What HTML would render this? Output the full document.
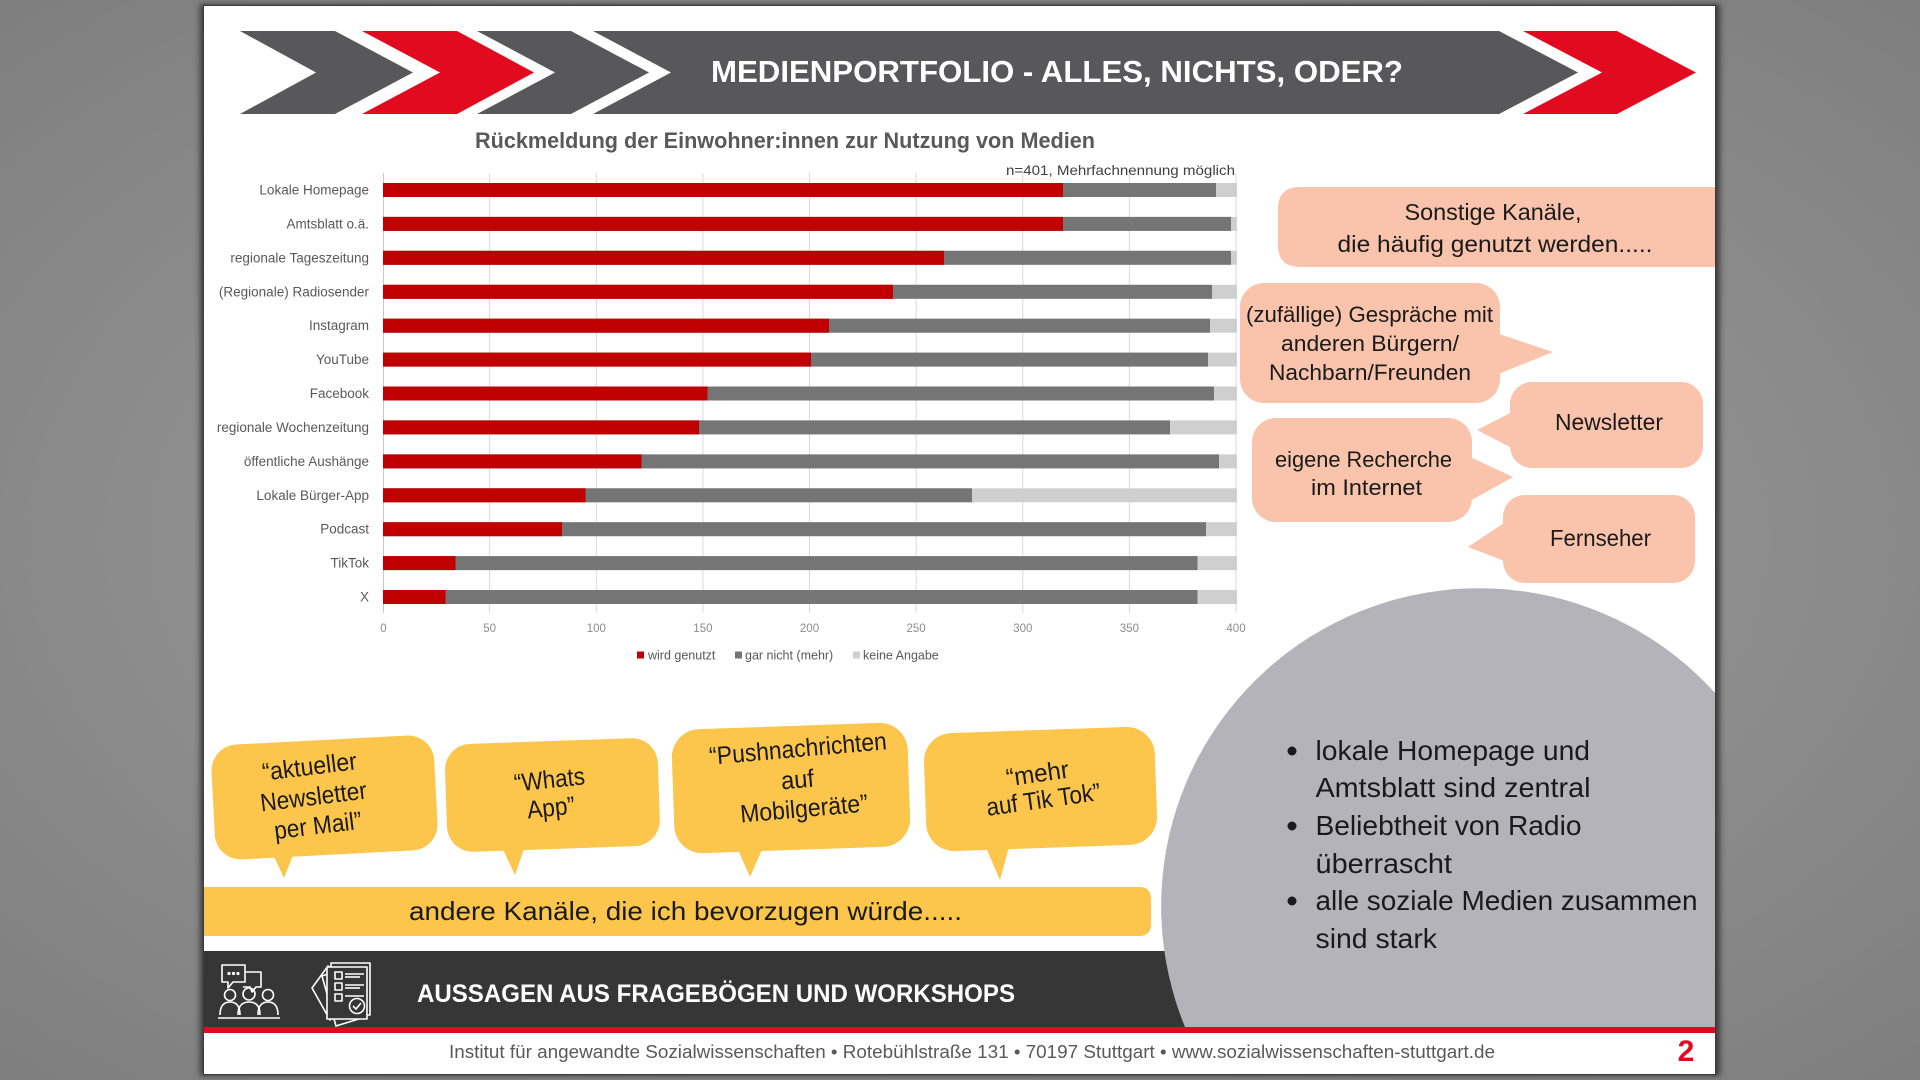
<!DOCTYPE html>
<html><head><meta charset="utf-8"><style>
html,body{margin:0;padding:0;width:1920px;height:1080px;overflow:hidden;background:#8d8d8d;}
svg{display:block;position:absolute;left:0;top:0}
text{font-family:"Liberation Sans",sans-serif;}
</style></head><body>
<svg width="1920" height="1080" viewBox="0 0 1920 1080" xmlns="http://www.w3.org/2000/svg" overflow="hidden">
<defs>
<radialGradient id="bg" cx="50%" cy="50%" r="75%">
<stop offset="0" stop-color="#a2a2a2"/><stop offset="1" stop-color="#7c7c7c"/>
</radialGradient>
<filter id="sh" x="-2%" y="-2%" width="104%" height="104%"><feGaussianBlur stdDeviation="3"/></filter>
<clipPath id="slideAll"><rect x="203" y="5" width="1513" height="1070"/></clipPath>
</defs>
<rect width="1920" height="1080" fill="url(#bg)"/>
<rect x="200" y="4" width="1520" height="1072" fill="#2a2a2a" filter="url(#sh)" opacity="0.8"/>
<rect x="203" y="5" width="1513" height="1070" fill="#ffffff"/>

<!-- header -->
<polygon points="240,31 335,31 413,72.5 335,114 240,114 316,72.5" fill="#58585a"/>
<polygon points="362,31 457,31 534,72.5 457,114 362,114 440,72.5" fill="#e20a1e"/>
<polygon points="477,31 571,31 649,72.5 571,114 477,114 555,72.5" fill="#58585a"/>
<polygon points="593,31 1499,31 1578,72.5 1499,114 593,114 671,72.5" fill="#58585a"/>
<polygon points="1523,31 1617,31 1696,72.5 1617,114 1523,114 1602,72.5" fill="#e20a1e"/>
<text x="1057" y="82" text-anchor="middle" font-size="31" font-weight="bold" fill="#ffffff" textLength="692" lengthAdjust="spacingAndGlyphs">MEDIENPORTFOLIO - ALLES, NICHTS, ODER?</text>

<!-- chart title -->
<text x="475" y="148" font-size="22" font-weight="bold" fill="#595959" textLength="620" lengthAdjust="spacingAndGlyphs">Rückmeldung der Einwohner:innen zur Nutzung von Medien</text>
<text x="1235" y="175" text-anchor="end" font-size="14" fill="#404040" textLength="229" lengthAdjust="spacingAndGlyphs">n=401, Mehrfachnennung möglich</text>

<!-- gridlines -->
<g stroke="#d9d9d9" stroke-width="1">
<line x1="383.5" y1="173" x2="383.5" y2="613" stroke="#c8c8c8"/>
<line x1="489.6" y1="173" x2="489.6" y2="613"/>
<line x1="596.3" y1="173" x2="596.3" y2="613"/>
<line x1="702.9" y1="173" x2="702.9" y2="613"/>
<line x1="809.5" y1="173" x2="809.5" y2="613"/>
<line x1="916.1" y1="173" x2="916.1" y2="613"/>
<line x1="1022.8" y1="173" x2="1022.8" y2="613"/>
<line x1="1129.4" y1="173" x2="1129.4" y2="613"/>
<line x1="1236" y1="173" x2="1236" y2="613"/>
</g>

<!-- bars -->
<g>
<rect x="383" y="183" width="854" height="14" fill="#d0cfcf"/>
<rect x="383" y="183" width="833" height="14" fill="#767575"/>
<rect x="383" y="183" width="680" height="14" fill="#c00000"/>

<rect x="383" y="216.9" width="854" height="14" fill="#d0cfcf"/>
<rect x="383" y="216.9" width="848" height="14" fill="#767575"/>
<rect x="383" y="216.9" width="680" height="14" fill="#c00000"/>

<rect x="383" y="250.8" width="854" height="14" fill="#d0cfcf"/>
<rect x="383" y="250.8" width="848" height="14" fill="#767575"/>
<rect x="383" y="250.8" width="561" height="14" fill="#c00000"/>

<rect x="383" y="284.8" width="854" height="14" fill="#d0cfcf"/>
<rect x="383" y="284.8" width="829" height="14" fill="#767575"/>
<rect x="383" y="284.8" width="510" height="14" fill="#c00000"/>

<rect x="383" y="318.7" width="854" height="14" fill="#d0cfcf"/>
<rect x="383" y="318.7" width="827" height="14" fill="#767575"/>
<rect x="383" y="318.7" width="446" height="14" fill="#c00000"/>

<rect x="383" y="352.6" width="854" height="14" fill="#d0cfcf"/>
<rect x="383" y="352.6" width="825" height="14" fill="#767575"/>
<rect x="383" y="352.6" width="428" height="14" fill="#c00000"/>

<rect x="383" y="386.5" width="854" height="14" fill="#d0cfcf"/>
<rect x="383" y="386.5" width="831" height="14" fill="#767575"/>
<rect x="383" y="386.5" width="324.5" height="14" fill="#c00000"/>

<rect x="383" y="420.4" width="854" height="14" fill="#d0cfcf"/>
<rect x="383" y="420.4" width="787" height="14" fill="#767575"/>
<rect x="383" y="420.4" width="316" height="14" fill="#c00000"/>

<rect x="383" y="454.4" width="854" height="14" fill="#d0cfcf"/>
<rect x="383" y="454.4" width="836" height="14" fill="#767575"/>
<rect x="383" y="454.4" width="258.5" height="14" fill="#c00000"/>

<rect x="383" y="488.3" width="854" height="14" fill="#d0cfcf"/>
<rect x="383" y="488.3" width="589" height="14" fill="#767575"/>
<rect x="383" y="488.3" width="202.5" height="14" fill="#c00000"/>

<rect x="383" y="522.2" width="854" height="14" fill="#d0cfcf"/>
<rect x="383" y="522.2" width="823" height="14" fill="#767575"/>
<rect x="383" y="522.2" width="179" height="14" fill="#c00000"/>

<rect x="383" y="556.1" width="854" height="14" fill="#d0cfcf"/>
<rect x="383" y="556.1" width="814.5" height="14" fill="#767575"/>
<rect x="383" y="556.1" width="72.5" height="14" fill="#c00000"/>

<rect x="383" y="590" width="854" height="14" fill="#d0cfcf"/>
<rect x="383" y="590" width="814.5" height="14" fill="#767575"/>
<rect x="383" y="590" width="62.5" height="14" fill="#c00000"/>
</g>

<!-- y labels -->
<g font-size="13.5" fill="#595959" text-anchor="end">
<text x="369" y="194.5">Lokale Homepage</text>
<text x="369" y="228.4">Amtsblatt o.ä.</text>
<text x="369" y="262.3">regionale Tageszeitung</text>
<text x="369" y="296.3">(Regionale) Radiosender</text>
<text x="369" y="330.2">Instagram</text>
<text x="369" y="364.1">YouTube</text>
<text x="369" y="398">Facebook</text>
<text x="369" y="431.9">regionale Wochenzeitung</text>
<text x="369" y="465.9">öffentliche Aushänge</text>
<text x="369" y="499.8">Lokale Bürger-App</text>
<text x="369" y="533.7">Podcast</text>
<text x="369" y="567.6">TikTok</text>
<text x="369" y="601.5">X</text>
</g>

<!-- x ticks -->
<g font-size="11.5" fill="#8c8c8c" text-anchor="middle">
<text x="383.5" y="632">0</text>
<text x="489.6" y="632">50</text>
<text x="596.3" y="632">100</text>
<text x="702.9" y="632">150</text>
<text x="809.5" y="632">200</text>
<text x="916.1" y="632">250</text>
<text x="1022.8" y="632">300</text>
<text x="1129.4" y="632">350</text>
<text x="1236" y="632">400</text>
</g>

<!-- legend -->
<rect x="637" y="651.5" width="7" height="7" fill="#c00000"/>
<text x="648" y="659.5" font-size="12.5" fill="#595959">wird genutzt</text>
<rect x="735" y="651.5" width="7" height="7" fill="#767575"/>
<text x="745" y="659.5" font-size="12.5" fill="#595959">gar nicht (mehr)</text>
<rect x="853" y="651.5" width="7" height="7" fill="#d0cfcf"/>
<text x="863" y="659.5" font-size="12.5" fill="#595959">keine Angabe</text>

<!-- salmon bubbles -->
<g fill="#f9c4ab">
<path d="M1716,187 V267 H1300 Q1278,267 1278,245 V209 Q1278,187 1300,187 Z"/>
<rect x="1240" y="283" width="260" height="120" rx="24"/>
<polygon points="1496,333 1553,352 1496,375"/>
<rect x="1510" y="382" width="193" height="86" rx="22"/>
<polygon points="1514,411 1477,430 1514,449"/>
<rect x="1252" y="418" width="220" height="104" rx="24"/>
<polygon points="1468,456 1513,477 1468,502"/>
<rect x="1503" y="495" width="192" height="88" rx="22"/>
<polygon points="1507,521 1468,547 1507,562"/>
</g>
<g font-size="23" fill="#1a1a1a" text-anchor="middle">
<text x="1493" y="220" textLength="177" lengthAdjust="spacingAndGlyphs">Sonstige Kanäle,</text>
<text x="1495" y="252" textLength="315" lengthAdjust="spacingAndGlyphs">die häufig genutzt werden.....</text>
<text x="1369.5" y="322" font-size="22" textLength="247" lengthAdjust="spacingAndGlyphs">(zufällige) Gespräche mit</text>
<text x="1370" y="351" font-size="22" textLength="178" lengthAdjust="spacingAndGlyphs">anderen Bürgern/</text>
<text x="1370" y="380" font-size="22" textLength="202" lengthAdjust="spacingAndGlyphs">Nachbarn/Freunden</text>
<text x="1609" y="430" textLength="108" lengthAdjust="spacingAndGlyphs">Newsletter</text>
<text x="1363.5" y="467" font-size="22" textLength="177" lengthAdjust="spacingAndGlyphs">eigene Recherche</text>
<text x="1366.5" y="495" font-size="22" textLength="111" lengthAdjust="spacingAndGlyphs">im Internet</text>
<text x="1600.5" y="546" textLength="101" lengthAdjust="spacingAndGlyphs">Fernseher</text>
</g>

<!-- yellow bubbles -->
<g fill="#fcc54b">
<g transform="rotate(-3 324 797)">
<rect x="213" y="740" width="223" height="115" rx="26"/>
</g>
<polygon points="270,848 296,848 284,878"/>
<g transform="rotate(-2 552 797)">
<rect x="446" y="741" width="213" height="108" rx="26"/>
</g>
<polygon points="500,843 526,843 515,875"/>
<g transform="rotate(-2 791 788)">
<rect x="673" y="726" width="236" height="124" rx="28"/>
</g>
<polygon points="736,845 764,845 750,877"/>
<g transform="rotate(-2 1040 789)">
<rect x="925" y="730" width="231" height="118" rx="28"/>
</g>
<polygon points="984,843 1010,843 1000,880"/>
<path d="M203,887 H1139 Q1151,887 1151,899 V924 Q1151,936 1139,936 H203 Z"/>
</g>
<g font-size="25" fill="#1a1a1a" text-anchor="middle" style="font-family:'Liberation Sans Narrow','Liberation Sans',sans-serif">
<text x="309.5" y="775" transform="rotate(-7 309.5 767)" textLength="95" lengthAdjust="spacingAndGlyphs">“aktueller</text>
<text x="313.5" y="805" transform="rotate(-7 313.5 797)" textLength="107" lengthAdjust="spacingAndGlyphs">Newsletter</text>
<text x="318" y="834" transform="rotate(-7 318 826)" textLength="88" lengthAdjust="spacingAndGlyphs">per Mail”</text>
<text x="549.5" y="788" transform="rotate(-6 549.5 780)" textLength="71" lengthAdjust="spacingAndGlyphs">“Whats</text>
<text x="551" y="816" transform="rotate(-6 551 808)" textLength="48" lengthAdjust="spacingAndGlyphs">App”</text>
<text x="798" y="757" transform="rotate(-5 798 749)" textLength="178" lengthAdjust="spacingAndGlyphs">“Pushnachrichten</text>
<text x="797.5" y="788" transform="rotate(-5 797.5 780)" textLength="33" lengthAdjust="spacingAndGlyphs">auf</text>
<text x="804" y="817" transform="rotate(-5 804 809)" textLength="128" lengthAdjust="spacingAndGlyphs">Mobilgeräte”</text>
<text x="1037.5" y="782" transform="rotate(-8 1037.5 774)" textLength="63" lengthAdjust="spacingAndGlyphs">“mehr</text>
<text x="1043.5" y="808" transform="rotate(-8 1043.5 800)" textLength="115" lengthAdjust="spacingAndGlyphs">auf Tik Tok”</text>
<text x="685.5" y="920" font-size="26" textLength="553" lengthAdjust="spacingAndGlyphs">andere Kanäle, die ich bevorzugen würde.....</text>
</g>

<!-- dark band -->
<rect x="203" y="951" width="1513" height="76" fill="#363636"/>
<text x="417" y="1002" font-size="25" font-weight="bold" fill="#ffffff" textLength="598" lengthAdjust="spacingAndGlyphs">AUSSAGEN AUS FRAGEBÖGEN UND WORKSHOPS</text>

<!-- icons -->
<g fill="none" stroke="#ffffff" stroke-width="1.6" stroke-linejoin="round">
<path d="M243,972 H261 V987 H256 L252,992 L250,987 H243"/>
<path d="M222,965 H245 V982 H233 L228,988 L228,982 H222 Z" fill="#363636"/>
<circle cx="229" cy="973.5" r="0.8" fill="#fff"/><circle cx="233.5" cy="973.5" r="0.8" fill="#fff"/><circle cx="238" cy="973.5" r="0.8" fill="#fff"/>
<circle cx="230" cy="995" r="5.5"/><circle cx="249" cy="994" r="6"/><circle cx="268" cy="995" r="5.5"/>
<path d="M220,1015 Q220,1002 230,1002 Q240,1002 240,1015"/>
<path d="M238,1015 Q238,1002 249,1002 Q260,1002 260,1015"/>
<path d="M258,1015 Q258,1002 268,1002 Q278,1002 278,1015"/>
<line x1="218" y1="1018" x2="280" y2="1018"/>
<path d="M312,988 L328,966 L348,980 L330,1020 Z" fill="#363636"/>
<path d="M322,976 L345,968 L362,1018 L336,1026 Z" fill="#363636"/>
<rect x="331" y="963" width="39" height="52" fill="#363636"/>
<rect x="327" y="967" width="40" height="52" fill="#363636"/>
<rect x="335" y="972" width="7" height="7"/><line x1="345" y1="974" x2="364" y2="974"/><line x1="345" y1="977" x2="360" y2="977"/>
<rect x="335" y="983" width="7" height="7"/><line x1="345" y1="985" x2="364" y2="985"/><line x1="345" y1="988" x2="360" y2="988"/>
<rect x="335" y="994" width="7" height="7"/><line x1="345" y1="996" x2="364" y2="996"/>
<circle cx="357" cy="1006" r="7.5" fill="#363636"/>
<path d="M353,1006 L356,1009 L361,1003"/>
</g>

<!-- grey circle segment (pre-clipped geometry) -->
<path d="M1716,694 A318,318 0 0 0 1185,1027 L1716,1027 Z" fill="#b4b3b9"/>
<g font-size="28" fill="#1a1a1a">
<circle cx="1292" cy="751" r="4.5"/>
<text x="1315.5" y="760" textLength="274.5" lengthAdjust="spacingAndGlyphs">lokale Homepage und</text>
<text x="1315.5" y="797" textLength="275" lengthAdjust="spacingAndGlyphs">Amtsblatt sind zentral</text>
<circle cx="1292" cy="826" r="4.5"/>
<text x="1315.5" y="835" textLength="266" lengthAdjust="spacingAndGlyphs">Beliebtheit von Radio</text>
<text x="1315.5" y="873" textLength="136.5" lengthAdjust="spacingAndGlyphs">überrascht</text>
<circle cx="1292" cy="901" r="4.5"/>
<text x="1315.5" y="910" textLength="382" lengthAdjust="spacingAndGlyphs">alle soziale Medien zusammen</text>
<text x="1315.5" y="948" textLength="121.5" lengthAdjust="spacingAndGlyphs">sind stark</text>
</g>

<!-- red line + footer -->
<rect x="203" y="1027" width="1513" height="6" fill="#e20a1e"/>
<text x="972" y="1058" text-anchor="middle" font-size="18" fill="#595959" textLength="1046" lengthAdjust="spacingAndGlyphs">Institut für angewandte Sozialwissenschaften • Rotebühlstraße 131 • 70197 Stuttgart • www.sozialwissenschaften-stuttgart.de</text>
<text x="1686" y="1061" text-anchor="middle" font-size="30" font-weight="bold" fill="#e20a1e">2</text>
<rect x="203.5" y="5.5" width="1512" height="1069" fill="none" stroke="#3a3a3a" stroke-width="1"/>
</svg>
</body></html>
